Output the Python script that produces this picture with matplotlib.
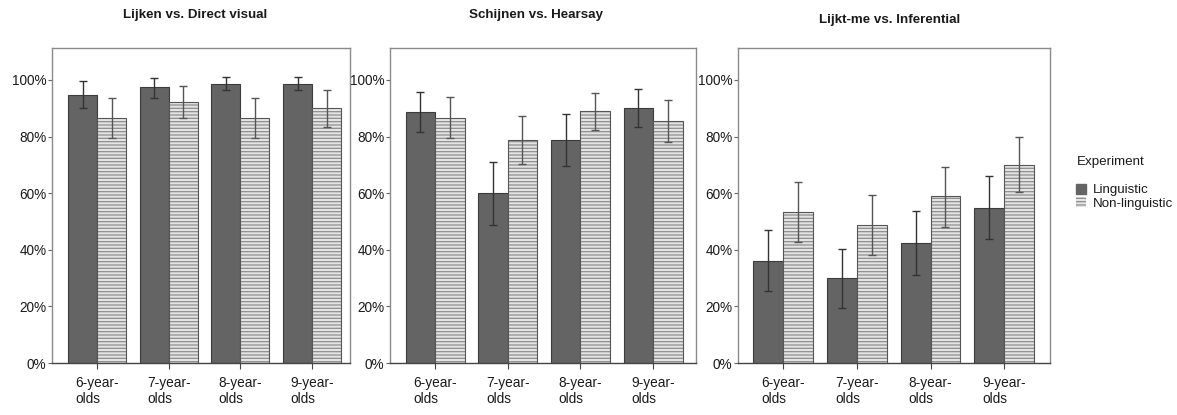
import numpy as np
import matplotlib
matplotlib.use("Agg")
import matplotlib.pyplot as plt
from matplotlib.patches import Patch
from matplotlib.ticker import PercentFormatter

plt.rcParams['font.family'] = ['Liberation Sans', 'DejaVu Sans']
plt.rcParams['hatch.linewidth'] = 0.9

# age groups (x categories)
groups = ['6-year-\nolds', '7-year-\nolds', '8-year-\nolds', '9-year-\nolds']
titles = ['Lijken vs. Direct visual', 'Schijnen vs. Hearsay', 'Lijkt-me vs. Inferential']

# percentage correct, with error bar ends (lower, upper)
lijken_ling = [94.8, 97.4, 98.6, 98.6]
lijken_ling_lo = [90.0, 93.8, 96.4, 96.4]
lijken_ling_hi = [99.8, 100.8, 101.1, 101.1]
lijken_non = [86.7, 92.1, 86.7, 90.0]
lijken_non_lo = [79.4, 86.6, 79.4, 83.5]
lijken_non_hi = [93.8, 97.8, 93.8, 96.4]

schijnen_ling = [88.7, 60.0, 78.7, 90.0]
schijnen_ling_lo = [81.6, 48.8, 69.5, 83.3]
schijnen_ling_hi = [95.9, 70.9, 88.0, 96.7]
schijnen_non = [86.7, 78.9, 89.1, 85.6]
schijnen_non_lo = [79.4, 70.2, 82.2, 78.0]
schijnen_non_hi = [93.9, 87.4, 95.5, 92.9]

lijktme_ling = [36.2, 29.9, 42.5, 54.9]
lijktme_ling_lo = [25.3, 19.6, 31.2, 43.8]
lijktme_ling_hi = [47.1, 40.2, 53.6, 66.2]
lijktme_non = [53.4, 48.9, 58.9, 70.1]
lijktme_non_lo = [42.7, 38.1, 48.2, 60.4]
lijktme_non_hi = [63.8, 59.5, 69.3, 79.8]

panels = [
    (lijken_ling, lijken_ling_lo, lijken_ling_hi, lijken_non, lijken_non_lo, lijken_non_hi),
    (schijnen_ling, schijnen_ling_lo, schijnen_ling_hi, schijnen_non, schijnen_non_lo, schijnen_non_hi),
    (lijktme_ling, lijktme_ling_lo, lijktme_ling_hi, lijktme_non, lijktme_non_lo, lijktme_non_hi),
]

W, H = 1177, 415
fig = plt.figure(figsize=(W / 100, H / 100), dpi=100)

# axes boxes in pixels: left, right
boxes = [(52, 350), (390, 696), (738, 1050)]
xlims = [(-0.63, 3.53), (-0.62, 3.59), (-0.61, 3.62)]
title_pos = [(195, 15), (536, 15), (890, 20)]
top_px, bot_px = 48, 363

dark = '#646464'
light_bg = '#e4e4e4'
hatch_col = '#8e8e8e'
err_col = '#333333'
txt_col = '#1a1a1a'
bw = 0.405
x = np.arange(len(groups))

for i, (ling, ling_lo, ling_hi, non, non_lo, non_hi) in enumerate(panels):
    l, r = boxes[i]
    ax = fig.add_axes([l / W, 1 - bot_px / H, (r - l) / W, (bot_px - top_px) / H])

    ax.bar(x - bw / 2, ling, bw, color=dark, edgecolor='#3c3c3c', linewidth=0.8, zorder=2)
    ax.bar(x + bw / 2, non, bw, color=light_bg, edgecolor=hatch_col, hatch='-----',
           linewidth=0, zorder=2)
    ax.bar(x + bw / 2, non, bw, fill=False, edgecolor='#555555', linewidth=0.8, zorder=3)

    ling = np.array(ling)
    non = np.array(non)
    ax.errorbar(x - bw / 2, ling, yerr=[ling - np.array(ling_lo), np.array(ling_hi) - ling],
                fmt='none', ecolor=err_col, elinewidth=1, capsize=3, capthick=1, zorder=4)
    ax.errorbar(x + bw / 2, non, yerr=[non - np.array(non_lo), np.array(non_hi) - non],
                fmt='none', ecolor='#555555', elinewidth=1, capsize=3, capthick=1, zorder=4)

    ax.set_xlim(*xlims[i])
    ax.set_ylim(0, 111.3)
    ax.set_yticks([0, 20, 40, 60, 80, 100])
    ax.yaxis.set_major_formatter(PercentFormatter(decimals=0))
    ax.set_xticks(x)
    ax.set_xticklabels(groups, multialignment='left')

    for s in ax.spines.values():
        s.set_color('#8a8a8a')
        s.set_linewidth(1)
    ax.spines['bottom'].set_color('#444444')
    ax.tick_params(axis='y', direction='out', length=3, width=0.8, color='#666666',
                   labelsize=9.8, labelcolor=txt_col, pad=1)
    ax.tick_params(axis='x', direction='out', length=4, width=0.8, color='#444444',
                   labelsize=9.8, labelcolor=txt_col, pad=5)

    tx, ty = title_pos[i]
    fig.text(tx / W, 1 - ty / H, titles[i], ha='center', va='center',
             fontsize=9.6, fontweight='bold', color=txt_col)

# legend
fig.text(1077 / W, 1 - 162 / H, 'Experiment', ha='left', va='center',
         fontsize=9.6, color=txt_col)
handles = [Patch(facecolor=dark, edgecolor=dark),
           Patch(facecolor=light_bg, edgecolor=hatch_col, hatch='-----', linewidth=0)]
leg = fig.legend(handles, ['Linguistic', 'Non-linguistic'],
                 loc='upper left', bbox_to_anchor=(1069 / W, 1 - 177 / H), frameon=False,
                 fontsize=9.6, handlelength=0.8, handleheight=0.8,
                 handletextpad=0.5, labelspacing=0.05, borderpad=0)
for t in leg.get_texts():
    t.set_color(txt_col)

fig.savefig('out.png', dpi=100)
